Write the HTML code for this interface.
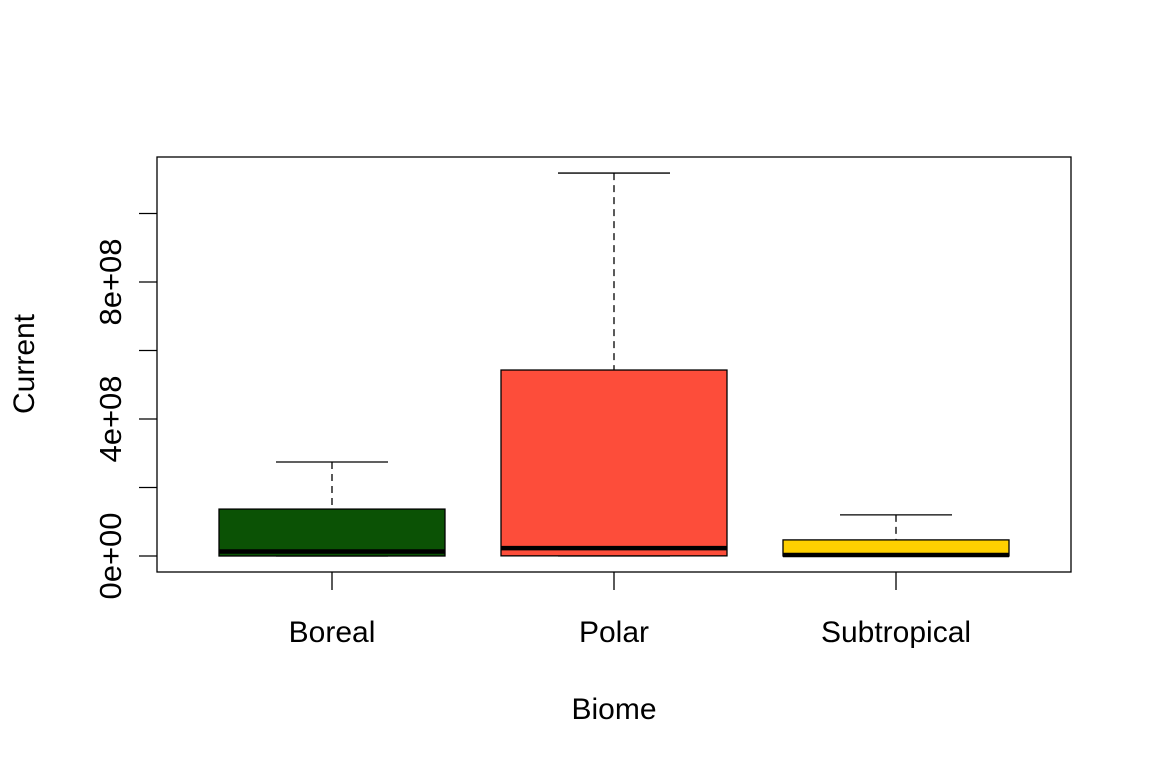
<!DOCTYPE html>
<html><head><style>body{margin:0;background:#fff}svg{display:block}</style></head>
<body>
<svg id="c" width="1152" height="768" xmlns="http://www.w3.org/2000/svg" font-family="Liberation Sans, sans-serif">
<rect x="157" y="157" width="914" height="415" fill="none" stroke="#000" stroke-width="1.3"/>
<g id="g"></g>
<text x="614" y="719" font-size="30" text-anchor="middle">Biome</text>
<text transform="translate(34,364) rotate(-90)" font-size="30" text-anchor="middle">Current</text>
</svg>
<script>
const categories=["Boreal","Polar","Subtropical"];
const colors=["#0b5205","#fd4d3a","#ffd000"];
const mins=[0,0,0];
const q1s=[0,0.004e8,0];
const medians=[0.13e8,0.23e8,0.03e8];
const q3s=[1.37e8,5.43e8,0.47e8];
const maxs=[2.745e8,11.18e8,1.2e8];
const yTicks=[0,2e8,4e8,6e8,8e8,10e8];
const yLabels=["0e+00","","4e+08","","8e+08",""];
const y=v=>556-v/2e8*68.5;
const x=i=>332+i*282;
const g=document.getElementById('g');
const NS="http://www.w3.org/2000/svg";
function mk(t,a,p){const e=document.createElementNS(NS,t);for(const k in a)e.setAttribute(k,a[k]);(p||g).appendChild(e);return e;}
yTicks.forEach((v,i)=>{
 const t=mk('line',{x1:139,x2:157,y1:y(v),y2:y(v),stroke:'#000','stroke-width':1.3});
 
 
 if(yLabels[i]){const l=mk('text',{transform:`translate(121,${y(v)}) rotate(-90)`,'font-size':31,'text-anchor':'middle'});l.textContent=yLabels[i];
 
 }
});
categories.forEach((c,i)=>{
 const cx=x(i),hw=113,cw=56;
 const t=mk('line',{x1:cx,x2:cx,y1:572,y2:590,stroke:'#000','stroke-width':1.3});
 
 
 const l=mk('text',{x:cx,y:642,'font-size':30,'text-anchor':'middle'});l.textContent=c;
 
 
 const w=mk('line',{x1:cx,x2:cx,y1:y(maxs[i]),y2:y(q3s[i]),stroke:'#000','stroke-width':1.3,'stroke-dasharray':'7,5'});
 
 
 const cap=mk('line',{x1:cx-cw,x2:cx+cw,y1:y(maxs[i]),y2:y(maxs[i]),stroke:'#000','stroke-width':1.3});
 
 
 const cap2=mk('line',{x1:cx-cw,x2:cx+cw,y1:y(mins[i]),y2:y(mins[i]),stroke:'#000','stroke-width':1.3});
 
 
 const b=mk('rect',{x:cx-hw,y:y(q3s[i]),width:2*hw,height:Math.max(y(q1s[i])-y(q3s[i]),1),fill:colors[i],stroke:'#000','stroke-width':1.3});
 
 
 const m=mk('line',{x1:cx-hw,x2:cx+hw,y1:y(medians[i]),y2:y(medians[i]),stroke:'#000','stroke-width':4.5});
 
 
});
</script>
</body></html>
